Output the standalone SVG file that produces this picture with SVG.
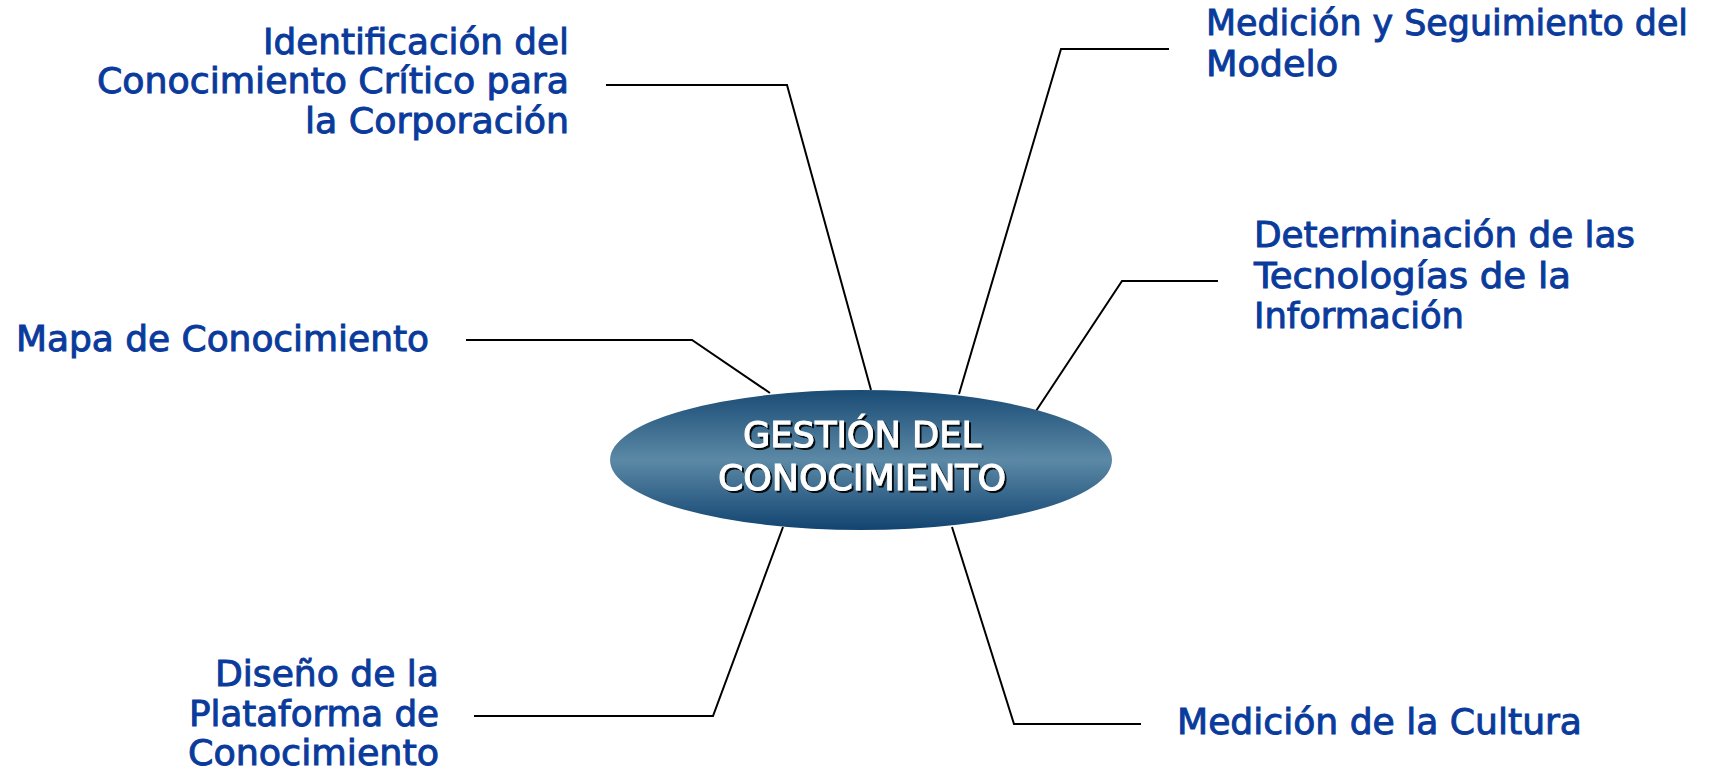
<svg xmlns="http://www.w3.org/2000/svg" width="1713" height="772" viewBox="0 0 1713 772">
<defs>
<linearGradient id="eg" x1="0" y1="0" x2="0" y2="1">
<stop offset="0" stop-color="#1a4b74"/>
<stop offset="0.5" stop-color="#5b89a6"/>
<stop offset="1" stop-color="#124471"/>
</linearGradient>
<filter id="sh" x="-10%" y="-10%" width="120%" height="130%">
<feDropShadow dx="2" dy="2" stdDeviation="0.5" flood-color="#000" flood-opacity="0.9"/>
</filter>
</defs>
<style>
.lbl{font-family:"DejaVu Sans Condensed","DejaVu Sans",sans-serif;font-stretch:condensed;font-size:36px;fill:#0a3b9c;stroke:#0a3b9c;stroke-width:0.9}
.ctr{font-family:"DejaVu Sans Condensed","DejaVu Sans",sans-serif;font-stretch:condensed;font-size:35px;fill:#ffffff;stroke:#ffffff;stroke-width:0.9;text-anchor:middle}
.con{fill:none;stroke:#000;stroke-width:2}
</style>
<rect width="1713" height="772" fill="#ffffff"/>
<g id="connectors">
<polyline class="con" points="606,85 787,85 871,390"/>
<polyline class="con" points="1169,49 1061,49 959,394"/>
<polyline class="con" points="1218,281 1122,281 1036,411"/>
<polyline class="con" points="466,340 692,340 770,393"/>
<polyline class="con" points="474,716 713,716 783,527"/>
<polyline class="con" points="1141,724 1014,724 952,527"/>
</g>
<g id="center">
<ellipse cx="861" cy="460" rx="251" ry="70" fill="url(#eg)"/>
<g filter="url(#sh)">
<text class="ctr" x="862" y="447" textLength="238" lengthAdjust="spacingAndGlyphs">GESTIÓN DEL</text>
<text class="ctr" x="862" y="490" textLength="288" lengthAdjust="spacingAndGlyphs">CONOCIMIENTO</text>
</g>
</g>
<g id="identificacion">
<text class="lbl" x="263" y="54" textLength="306" lengthAdjust="spacingAndGlyphs">Identificación del</text>
<text class="lbl" x="97" y="93" textLength="472" lengthAdjust="spacingAndGlyphs">Conocimiento Crítico para</text>
<text class="lbl" x="305" y="133" textLength="264" lengthAdjust="spacingAndGlyphs">la Corporación</text>
</g>
<g id="medicion-modelo">
<text class="lbl" x="1206" y="35" textLength="482" lengthAdjust="spacingAndGlyphs">Medición y Seguimiento del</text>
<text class="lbl" x="1206" y="76" textLength="132" lengthAdjust="spacingAndGlyphs">Modelo</text>
</g>
<g id="determinacion">
<text class="lbl" x="1254" y="247" textLength="381" lengthAdjust="spacingAndGlyphs">Determinación de las</text>
<text class="lbl" x="1254" y="288" textLength="317" lengthAdjust="spacingAndGlyphs">Tecnologías de la</text>
<text class="lbl" x="1254" y="328" textLength="210" lengthAdjust="spacingAndGlyphs">Información</text>
</g>
<g id="mapa">
<text class="lbl" x="16" y="351" textLength="413" lengthAdjust="spacingAndGlyphs">Mapa de Conocimiento</text>
</g>
<g id="diseno">
<text class="lbl" x="215" y="686" textLength="224" lengthAdjust="spacingAndGlyphs">Diseño de la</text>
<text class="lbl" x="189" y="726" textLength="250" lengthAdjust="spacingAndGlyphs">Plataforma de</text>
<text class="lbl" x="188" y="765" textLength="251" lengthAdjust="spacingAndGlyphs">Conocimiento</text>
</g>
<g id="medicion-cultura">
<text class="lbl" x="1177" y="734" textLength="405" lengthAdjust="spacingAndGlyphs">Medición de la Cultura</text>
</g>
</svg>
